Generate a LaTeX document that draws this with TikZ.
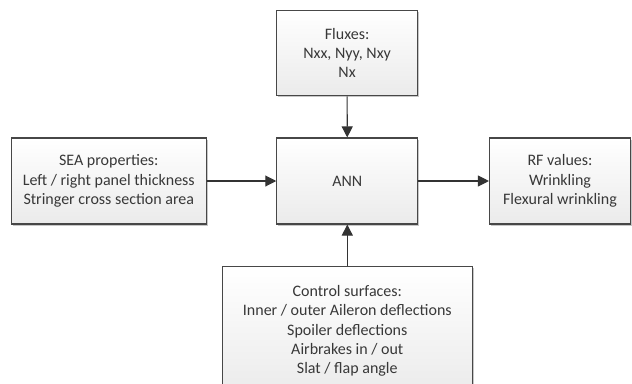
\documentclass[tikz,border=0pt]{standalone}
\usepackage{fontspec}
\setmainfont{Carlito}
\usetikzlibrary{arrows.meta,shadows}
\begin{document}
\begin{tikzpicture}[x=1pt, y=-1pt,
    box/.style={draw=black!72, line width=1.1pt, top color=white, bottom color=black!8,
        text=black!78, align=center, inner sep=0pt,
        font=\fontsize{16}{19.3}\selectfont,
        drop shadow={shadow xshift=1.6pt, shadow yshift=-1.6pt, fill=black, opacity=.22}},
    link/.style={draw=black!80, line width=1.1pt, -{Triangle[length=11pt, width=11pt]}}]
    \useasboundingbox (0, 0) rectangle (632, 383);
    \clip (0, 0) rectangle (632, 383);
    \node (flux) at (347.1, 52.9) [box, minimum width=140.8pt, minimum height=85.7pt] {Fluxes:\\Nxx, Nyy, Nxy\\Nx};
    \node (ann) at (347.3, 181) [box, minimum width=141pt, minimum height=86pt] {ANN};
    \node (sea) at (108.8, 181) [box, minimum width=194.5pt, minimum height=86pt] {SEA properties:\\Left / right panel thickness\\Stringer cross section area};
    \node (rf) at (560, 181) [box, minimum width=141pt, minimum height=86pt] {RF values:\\Wrinkling\\Flexural wrinkling};
    \node (ctrl) at (347.3, 331) [box, minimum width=250pt, minimum height=128.6pt] {Control surfaces:\\Inner / outer Aileron deflections\\Spoiler deflections\\Airbrakes in / out\\Slat / flap angle};
    \draw[link] (flux) -- (ann);
    \draw[link] (sea) -- (ann);
    \draw[link] (ann) -- (rf);
    \draw[link] (ctrl) -- (ann);
\end{tikzpicture}
\end{document}
